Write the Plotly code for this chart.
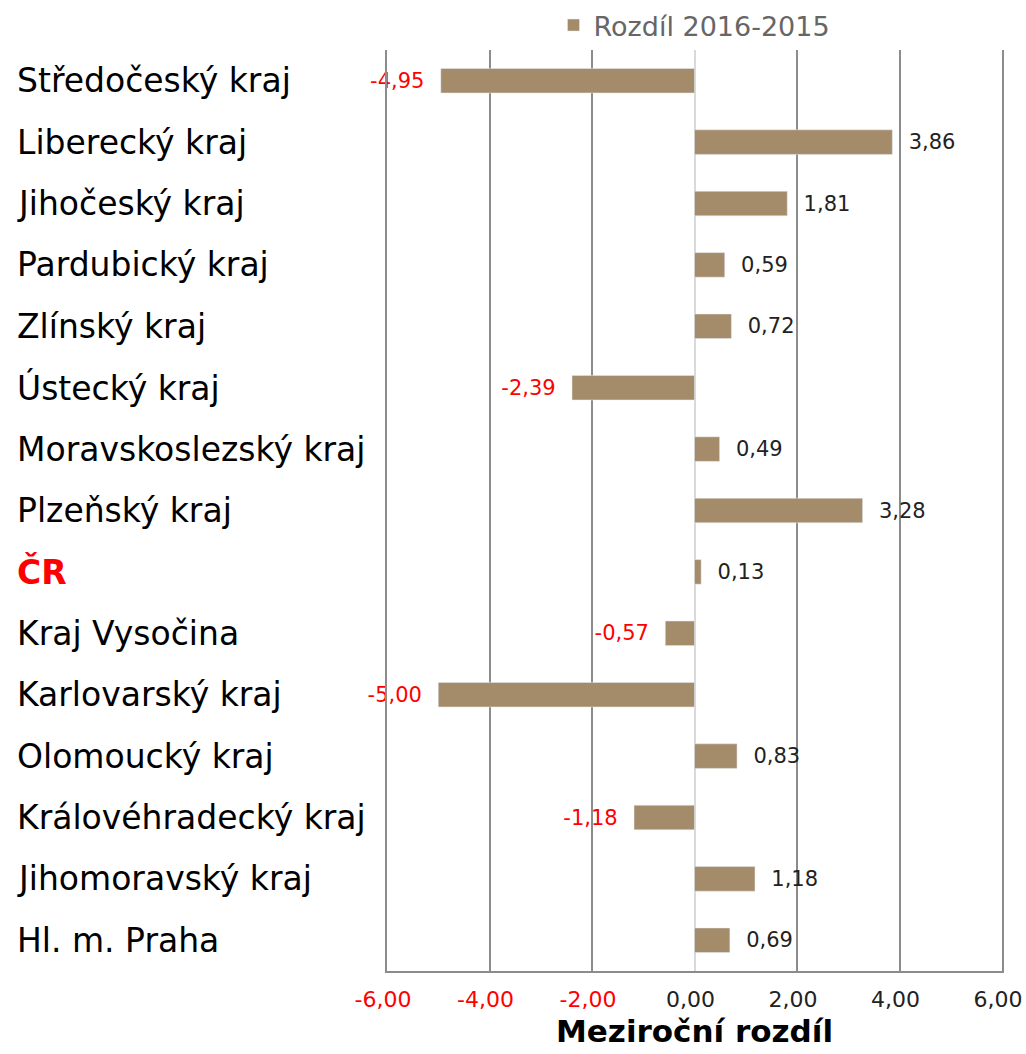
import plotly.graph_objects as go

regions = ["Středočeský kraj", "Liberecký kraj", "Jihočeský kraj", "Pardubický kraj",
           "Zlínský kraj", "Ústecký kraj", "Moravskoslezský kraj", "Plzeňský kraj",
           "ČR", "Kraj Vysočina", "Karlovarský kraj", "Olomoucký kraj",
           "Královéhradecký kraj", "Jihomoravský kraj", "Hl. m. Praha"]
diff = [-4.95, 3.86, 1.81, 0.59, 0.72, -2.39, 0.49, 3.28,
        0.13, -0.57, -5.00, 0.83, -1.18, 1.18, 0.69]
tick_vals = [-6, -4, -2, 0, 2, 4, 6]

FONT = "DejaVu Sans"
BAR = "#A48B69"
GRID = "#8c8c8c"
NB = "\u00a0\u00a0"

def fmt(v):
    return f"{v:.2f}".replace(".", ",")

labels = [fmt(v) + NB if v < 0 else NB + fmt(v) for v in diff]
label_colors = ["red" if v < 0 else "#222222" for v in diff]

fig = go.Figure()
fig.add_trace(go.Bar(
    x=diff, y=regions, orientation="h",
    name="Rozdíl 2016-2015",
    marker=dict(color=BAR),
    text=labels, textposition="outside", cliponaxis=False,
    textfont=dict(family=FONT, size=21, color=label_colors),
))

# category labels, left aligned at the left edge of the page
for r in regions:
    is_cr = r == "ČR"
    fig.add_annotation(
        x=-372 / 615, xref="paper", y=r, yref="y",
        text=f"<b>{r}</b>" if is_cr else r,
        xanchor="left", showarrow=False,
        font=dict(family=FONT, size=33, color="red" if is_cr else "black"),
    )

tick_text = [f"<span style='color:red'>{fmt(t)}</span>" if t < 0 else fmt(t) for t in tick_vals]

fig.update_layout(
    width=1026, height=1054,
    margin=dict(l=387, r=24, t=50, b=83, autoexpand=False),
    plot_bgcolor="white", paper_bgcolor="white",
    bargap=0.6,
    font=dict(family=FONT),
    showlegend=True,
    legend=dict(orientation="h", x=0.5, xanchor="center", y=1.0, yanchor="bottom",
                font=dict(family=FONT, size=27, color="#666666")),
    xaxis=dict(range=[-6, 6], tickvals=tick_vals, ticktext=tick_text,
               showgrid=True, gridcolor=GRID, gridwidth=1.5,
               zeroline=True, zerolinecolor="#d9d9d9", zerolinewidth=1.5,
               showline=True, linecolor=GRID, linewidth=1.5,
               ticklen=0, ticklabelstandoff=8, ticklabeloverflow="allow",
               ticklabelshift=-4,
               tickfont=dict(family=FONT, size=22, color="#222222"),
               title=dict(text="<b>Meziroční rozdíl</b>", standoff=9,
                          font=dict(family=FONT, size=31, color="black"))),
    yaxis=dict(categoryorder="array", categoryarray=regions, autorange="reversed",
               showticklabels=False, showgrid=False, zeroline=False,
               showline=True, mirror=True, linecolor=GRID, linewidth=1.5),
)

fig.write_html("out.html", config={"displayModeBar": False},
               post_script="document.body.style.margin='0';")
